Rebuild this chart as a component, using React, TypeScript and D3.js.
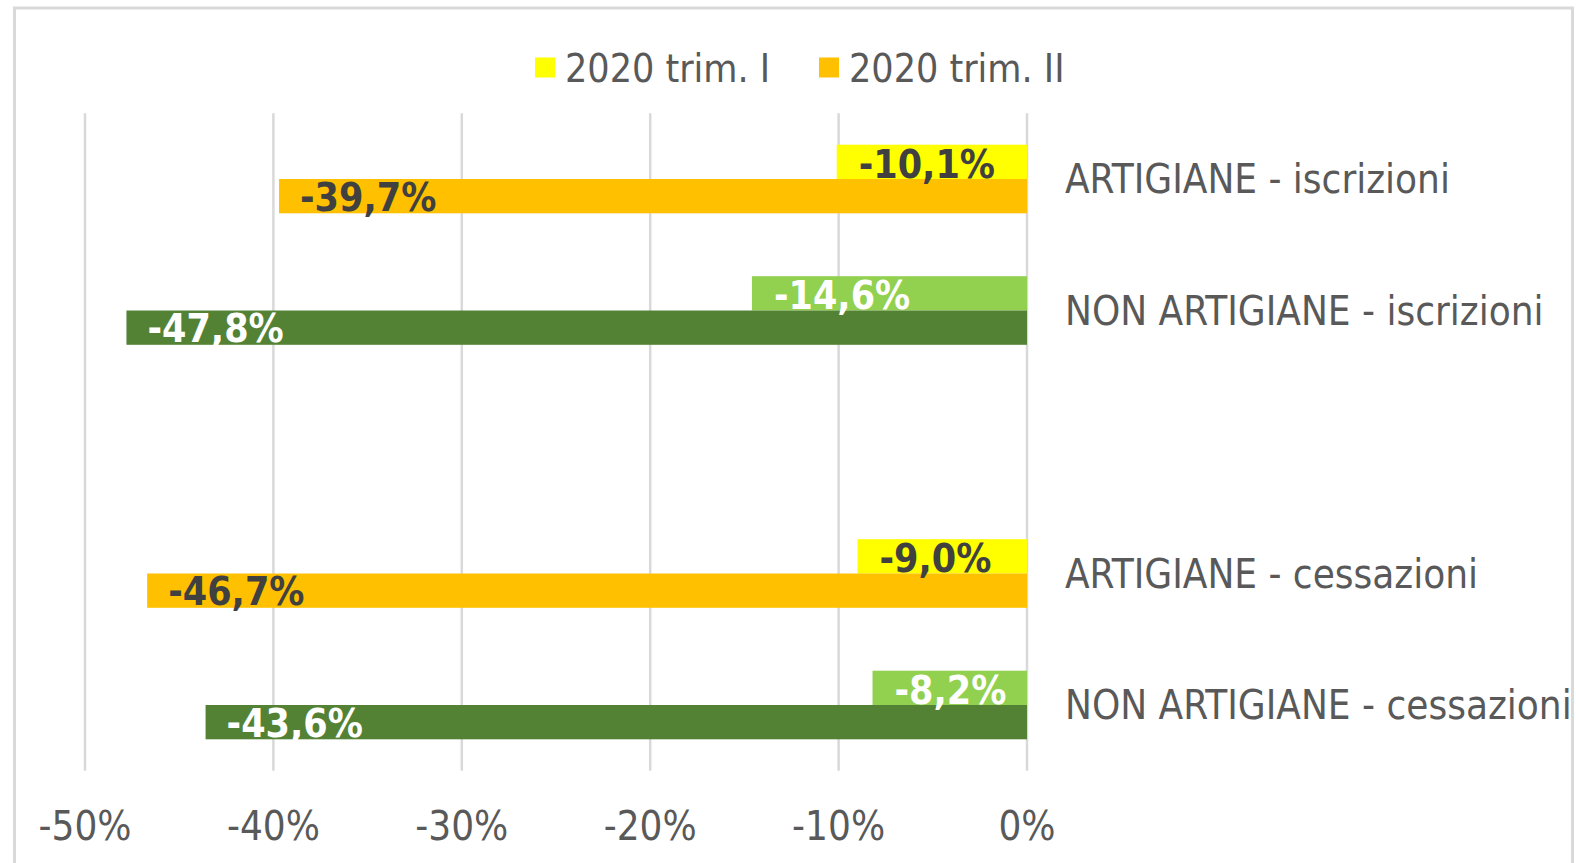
import React from "react";
import * as d3 from "d3";

const categories = [
  "ARTIGIANE - iscrizioni",
  "NON ARTIGIANE - iscrizioni",
  "",
  "ARTIGIANE - cessazioni",
  "NON ARTIGIANE - cessazioni",
];
const trimI: (number | null)[] = [-10.1, -14.6, null, -9.0, -8.2];
const trimII: (number | null)[] = [-39.7, -47.8, null, -46.7, -43.6];
const isArtigiane = [true, false, false, true, false];
const xTicks = [-50, -40, -30, -20, -10, 0];
const seriesNames = ["2020 trim. I", "2020 trim. II"];

const W = 1576;
const H = 863;
const FONT = "'DejaVu Sans Condensed', 'DejaVu Sans', sans-serif";
const GREY = "#595959";

const fmt = (v: number) => (v.toFixed(1) + "%").replace(".", ",");
const fmtTick = (v: number) => v + "%";

export default function App() {
  const x = d3.scaleLinear().domain([-50, 0]).range([85, 1027]);
  const y = d3
    .scaleBand<number>()
    .domain(d3.range(categories.length))
    .range([113.25, 770.75])
    .paddingInner(0)
    .paddingOuter(0);
  const barH = 34.3;

  const colorI = (i: number) => (isArtigiane[i] ? "#FFFF00" : "#92D050");
  const colorII = (i: number) => (isArtigiane[i] ? "#FFC000" : "#548235");
  const labelColorI = (i: number) => (isArtigiane[i] ? "#404040" : "#FFFFFF");
  const labelColorII = (i: number) => (isArtigiane[i] ? "#404040" : "#FFFFFF");

  return (
    <svg
      width={W}
      height={H}
      style={{ position: "absolute", left: 0, top: 0, background: "#fff" }}
      fontFamily={FONT}
    >
      <rect x={0} y={0} width={W} height={H} fill="#fff" />
      <rect
        x={14.5}
        y={8}
        width={1558}
        height={870}
        fill="#fff"
        stroke="#d9d9d9"
        strokeWidth={3}
      />
      {/* gridlines */}
      {xTicks.map((t) => (
        <line
          key={t}
          x1={x(t)}
          x2={x(t)}
          y1={113.25}
          y2={770.75}
          stroke="#d9d9d9"
          strokeWidth={2.5}
        />
      ))}
      {/* bars */}
      {categories.map((c, i) => {
        const cy = (y(i) as number) + y.bandwidth() / 2;
        const v1 = trimI[i];
        const v2 = trimII[i];
        return (
          <g key={i}>
            {v1 !== null && (
              <rect
                x={x(v1)}
                y={cy - barH}
                width={x(0) - x(v1)}
                height={barH}
                fill={colorI(i)}
              />
            )}
            {v2 !== null && (
              <rect
                x={x(v2)}
                y={cy}
                width={x(0) - x(v2)}
                height={barH}
                fill={colorII(i)}
              />
            )}
            {v1 !== null && (
              <text
                x={x(v1) + 22}
                y={cy - 1.5}
                fontSize={39}
                fontWeight="bold"
                fill={labelColorI(i)}
              >
                {fmt(v1)}
              </text>
            )}
            {v2 !== null && (
              <text
                x={x(v2) + 21}
                y={cy + barH - 2.5}
                fontSize={39}
                fontWeight="bold"
                fill={labelColorII(i)}
              >
                {fmt(v2)}
              </text>
            )}
            {c && (
              <text
                x={1065}
                y={cy}
                dy="0.36em"
                fontSize={40}
                fill={GREY}
              >
                {c}
              </text>
            )}
          </g>
        );
      })}
      {/* x axis labels */}
      {xTicks.map((t) => (
        <text
          key={t}
          x={x(t)}
          y={826}
          dy="0.36em"
          textAnchor="middle"
          fontSize={40}
          fill={GREY}
        >
          {fmtTick(t)}
        </text>
      ))}
      {/* legend */}
      <rect x={535} y={57.5} width={20} height={20} fill="#FFFF00" />
      <text x={565} y={67.5} dy="0.36em" fontSize={39} fill={GREY}>
        {seriesNames[0]}
      </text>
      <rect x={819} y={57.5} width={20} height={20} fill="#FFC000" />
      <text x={849} y={67.5} dy="0.36em" fontSize={39} fill={GREY}>
        {seriesNames[1]}
      </text>
    </svg>
  );
}
